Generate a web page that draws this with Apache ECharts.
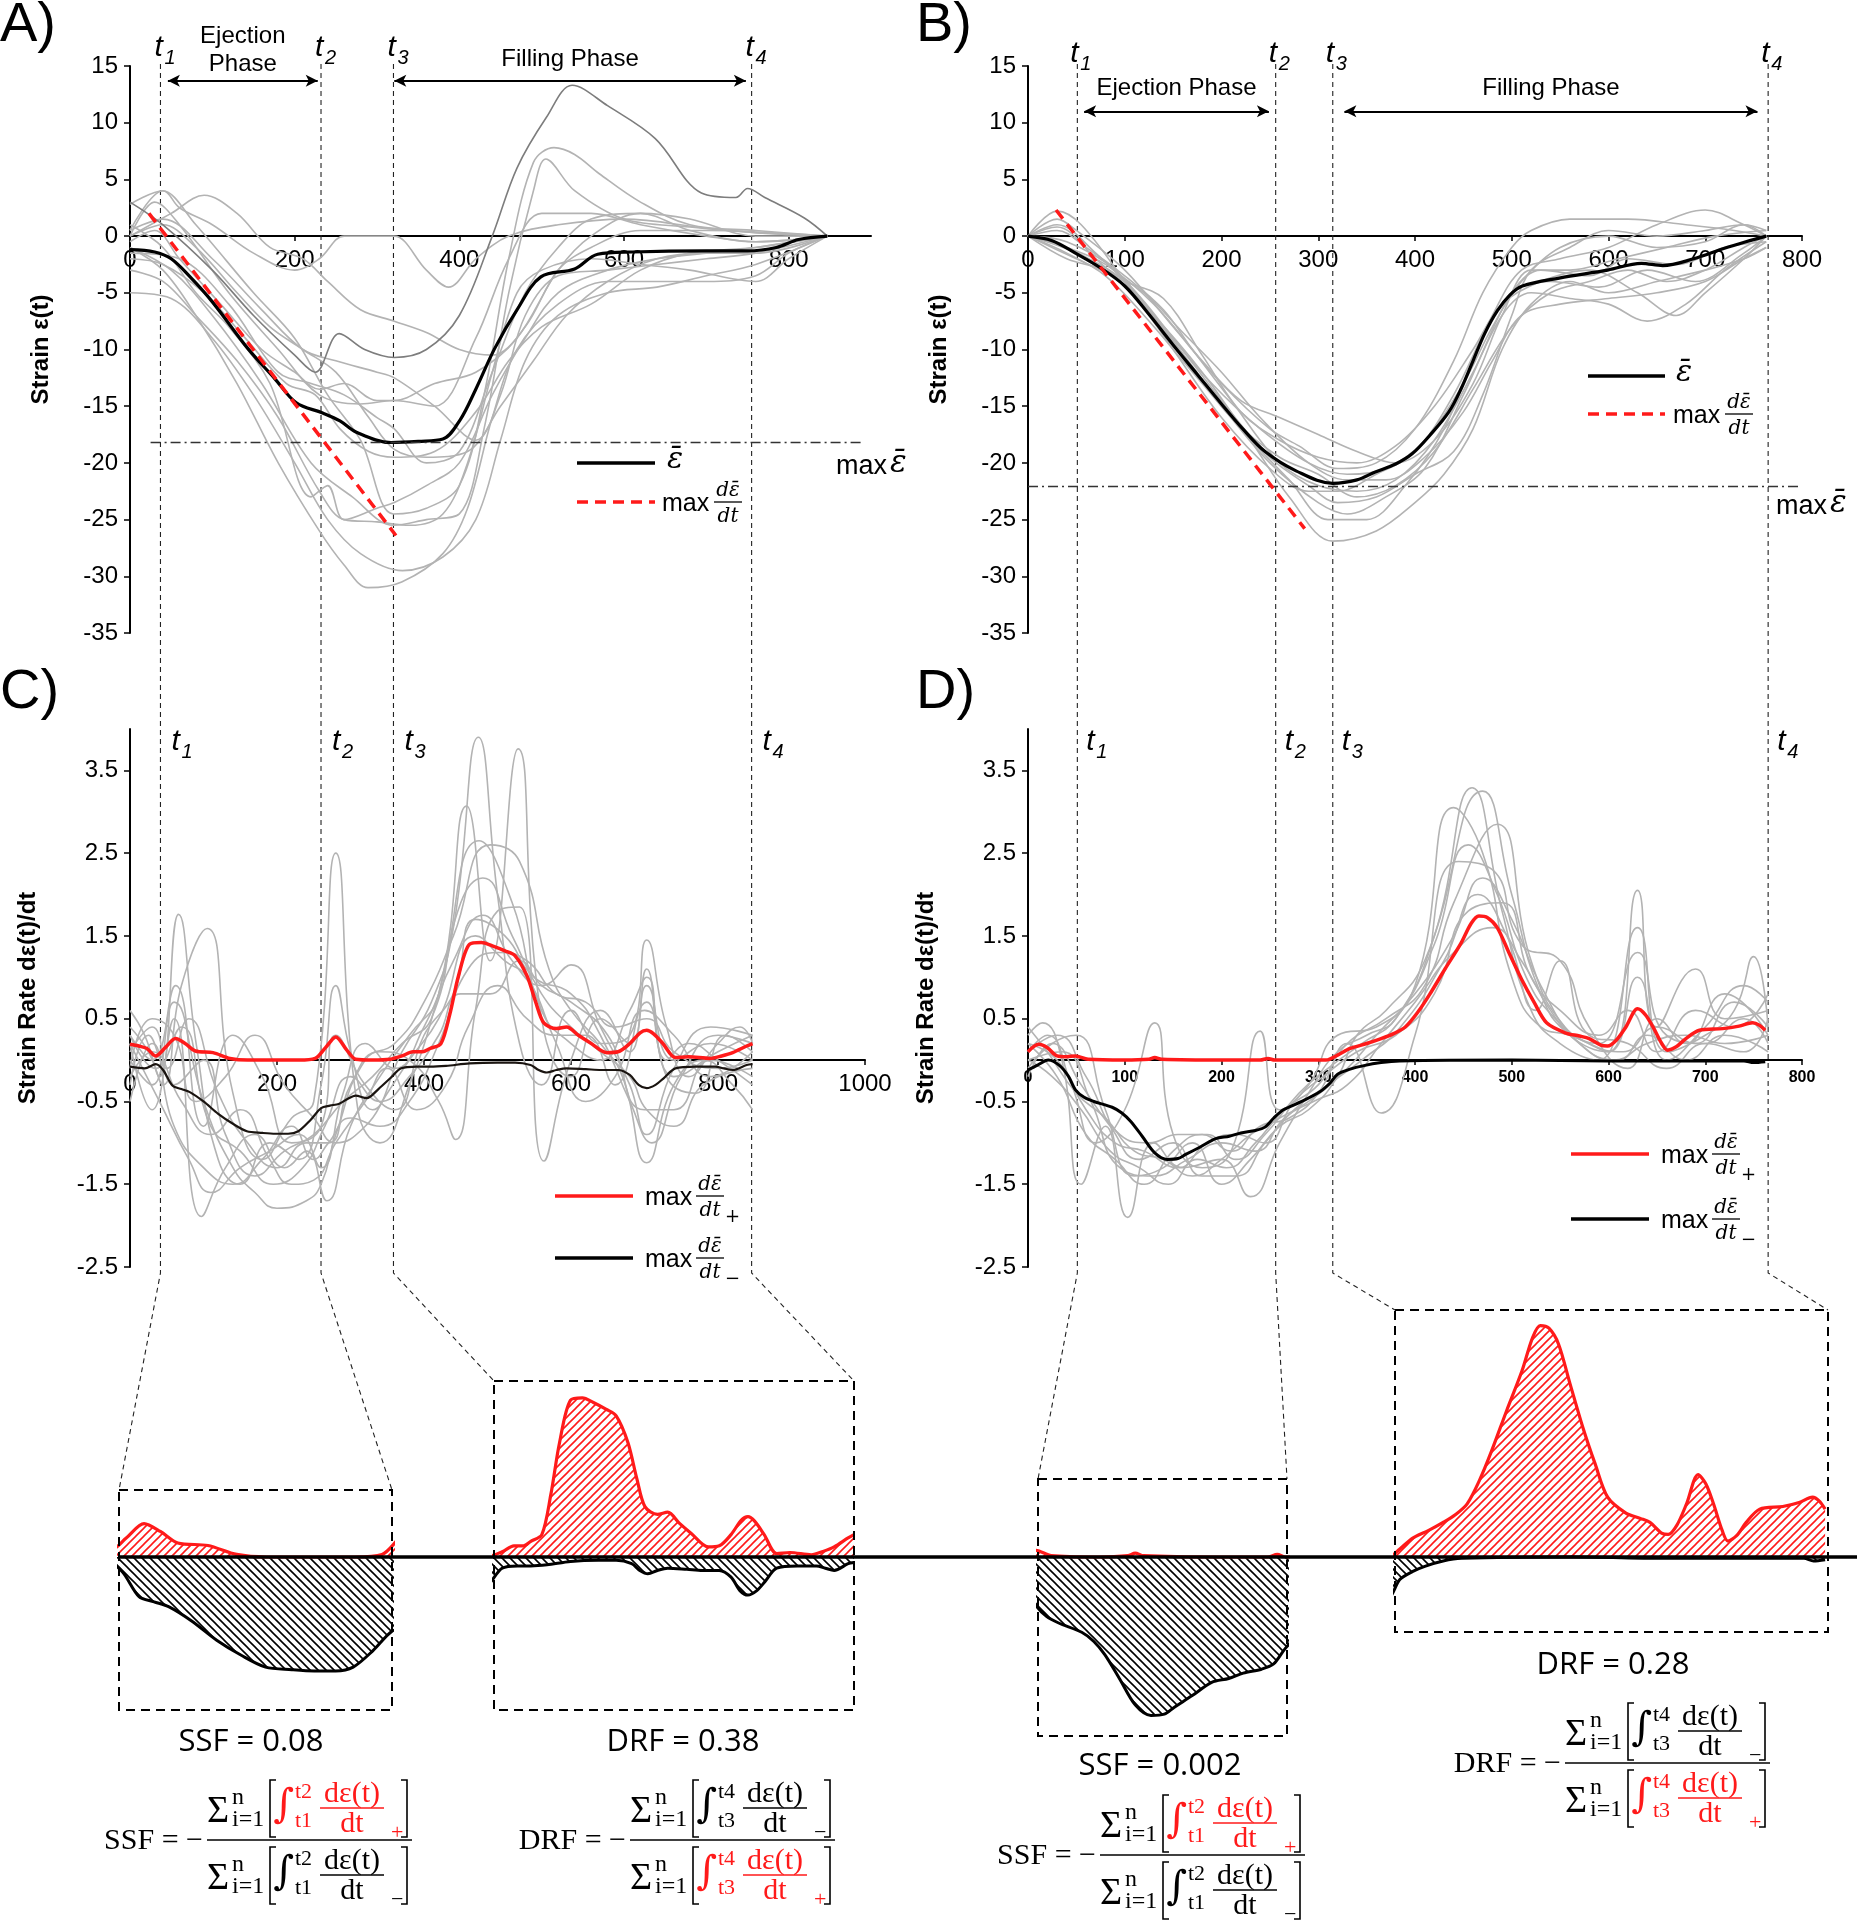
<!DOCTYPE html>
<html><head><meta charset="utf-8">
<script src="https://cdn.jsdelivr.net/npm/echarts@6/dist/echarts.min.js"></script>
<style>html,body{margin:0;padding:0;background:#fff}#c{width:1857px;height:1920px}</style>
</head><body><div id="c"></div>
<script>
// ---------------- DATA ----------------
const A_T = [37, 232, 320, 755];      // t1..t4 on panel A time axis (ms)
const C_T = [42, 260, 358, 847];      // t1..t4 on panel C time axis (ms)
const B_T = [51, 256, 315, 765];      // t1..t4 on panels B and D (ms)
const A_MAX_MEAN = -18.2;
const B_MAX_MEAN = -22.1;
const A_EJECT = [46, 228], A_FILL = [321, 748], A_ARROW_Y = 13.7;
const B_EJECT = [58, 249], B_FILL = [327, 754], B_ARROW_Y = 11.0;
const AB_Y_LABELS = [-35,-30,-25,-20,-15,-10,-5,0,5,10,15];
const A_X_LABELS = [0,200,400,600,800];
const B_X_LABELS = [0,100,200,300,400,500,600,700,800];
const C_X_LABELS = [0,200,400,600,800,1000];
const CD_Y_LABELS = [-2.5,-1.5,-0.5,0.5,1.5,2.5,3.5];
const RESULTS = ['SSF = 0.08', 'DRF = 0.38', 'SSF = 0.002', 'DRF = 0.28'];

const A_mean = [[0,-1.2],[30,-1.4],[50,-2],[73,-3.6],[100,-5.8],[143,-9.9],[175,-12.5],[202,-14.7],[234,-15.6],[255,-16.3],[275,-17.3],[317,-18.2],[350,-18.1],[380,-17.9],[401,-16.2],[420,-13.5],[443,-9.9],[470,-6.5],[499,-3.6],[540,-2.9],[568,-1.6],[610,-1.4],[700,-1.3],[750,-1.3],[785,-1.0],[812,-0.3],[847,0]];
const A_slope = [[23,2.0],[323,-26.4]];
const A_dark = [[0,3],[40,1],[100,-3],[150,-7],[200,-10.5],[225,-12],[254,-8.6],[285,-10],[321,-10.7],[360,-10],[400,-7],[440,0],[470,6],[506,10.5],[537,13.3],[580,11.5],[638,8.6],[694,3.8],[736,3.4],[750,4.2],[771,3.4],[819,1.6],[847,0]];
const A_gray = [
 [[0,0.5],[40,4],[80,1],[150,-5],[200,-9],[240,-14],[280,-18],[320,-24.5],[360,-24],[400,-22],[430,-14],[460,-2],[490,6.5],[515,7.8],[540,7.2],[570,5.5],[620,3],[680,1],[760,0.5],[847,0]],
 [[0,-1],[50,-3],[100,-7],[160,-13],[220,-20],[270,-23],[320,-25.5],[360,-25],[400,-24.5],[430,-17],[460,-5],[490,4],[505,6.8],[540,4],[600,1.5],[680,0.8],[760,0.3],[847,0]],
 [[0,0],[30,3],[60,1],[120,-5],[180,-10],[230,-14],[280,-14.8],[320,-14.5],[370,-15],[420,-9],[460,-2],[500,2],[560,2],[620,1],[700,0],[760,-0.5],[847,0]],
 [[0,2.8],[40,4],[60,2.5],[100,1],[150,-1.5],[200,-3],[230,-2],[260,0],[300,0],[321,0],[360,-3],[387,-4.5],[420,-2],[460,0],[520,1],[600,1.5],[700,0.7],[760,0.3],[847,0]],
 [[0,0],[50,2],[90,3.6],[130,2],[170,-1],[210,-2],[240,-4],[280,-6.5],[321,-7.5],[360,-8.5],[400,-10],[440,-10.5],[480,-8],[520,-3],[560,-1],[620,0.5],[700,0.5],[847,0]],
 [[0,-3],[40,-4],[80,-7],[130,-11],[180,-16],[230,-22.5],[260,-25],[300,-25.2],[340,-25.5],[380,-24.5],[410,-20],[440,-12],[470,-5],[500,-3],[560,-2],[620,-2.5],[680,-3],[760,-4],[800,-2],[847,0]],
 [[0,-1],[40,-3],[80,-7],[130,-13],[180,-20],[230,-26],[260,-29],[289,-31],[330,-30.5],[380,-28],[410,-24],[440,-16],[470,-10],[520,-6],[580,-4],[640,-4],[700,-4],[760,-3.5],[800,-1.5],[847,0]],
 [[0,-5],[50,-5.5],[100,-9],[150,-14],[200,-20],[240,-25],[280,-28],[331,-29.5],[380,-28.3],[420,-25],[450,-18],[480,-11],[520,-7],[580,-5],[640,-4.5],[700,-3.5],[760,-2.5],[847,0]],
 [[0,-2],[40,-2.5],[90,-5],[140,-9],[190,-13],[225,-14],[255,-17],[290,-19],[321,-19.5],[370,-19],[420,-15.5],[460,-11],[500,-8],[560,-6],[620,-3],[680,-1.5],[760,-1],[847,0]],
 [[0,1],[40,-1],[80,-5],[120,-8],[170,-13],[220,-23],[240,-22],[260,-25],[300,-24],[321,-23.5],[360,-22],[400,-20],[440,-14],[480,-9],[520,-5],[580,-3],[640,-2],[700,-1.5],[760,-1],[847,0]],
 [[0,-0.5],[30,0.5],[60,-2],[110,-6],[160,-10],[200,-12],[230,-13.5],[260,-13],[300,-14.5],[321,-14.5],[370,-13],[420,-12],[470,-9],[520,-3],[560,0],[620,2],[680,1.5],[760,0],[847,0]],
 [[0,0],[40,1],[80,-1],[130,-5],[170,-8],[210,-10],[250,-12],[290,-16],[321,-18.8],[360,-19.5],[410,-19],[450,-15],[490,-11],[530,-7],[580,-4],[640,-2],[700,-1.5],[760,-1.5],[847,0]],
 [[0,-1.5],[60,-2],[120,-6],[180,-12],[220,-13],[260,-14],[300,-16],[321,-17],[360,-20],[400,-19],[440,-12],[480,-5],[520,-1],[560,1.5],[620,2],[680,0.5],[760,-0.5],[847,0]],
 [[0,0.5],[40,1.5],[100,-2],[160,-6.5],[210,-10],[250,-11],[300,-12],[321,-12.5],[370,-15],[420,-18],[450,-14],[480,-7],[520,-3.5],[580,-3],[640,-2.5],[700,-2],[760,-1.5],[847,0]]
];

const B_mean = [[0,0],[25,-0.4],[49,-1.5],[75,-2.8],[100,-4.4],[125,-6.9],[150,-9.6],[175,-12.2],[200,-14.8],[222,-17],[245,-19],[277,-20.7],[315,-21.8],[340,-21.5],[359,-20.8],[380,-20.1],[397,-19.2],[415,-17.6],[435,-15.5],[448,-13.4],[460,-11],[472,-8.6],[485,-6.6],[498,-5.2],[511,-4.4],[549,-3.7],[599,-3.0],[634,-2.4],[656,-2.6],[688,-2.0],[719,-1.1],[742,-0.5],[763,0]];
const B_slope = [[29,2.3],[286,-25.8]];
const B_gray = [
 [[0,0],[30,1.5],[50,0.5],[100,-3],[150,-8],[200,-13],[250,-17],[280,-18.5],[320,-20.5],[360,-20],[400,-17],[440,-11],[470,-5],[500,-1],[520,0.5],[560,1.5],[620,1.5],[680,1],[730,0.5],[763,0]],
 [[0,0],[30,2.2],[55,1],[100,-4],[150,-10],[200,-16],[250,-20.5],[290,-22.5],[320,-22.5],[360,-21],[400,-19],[440,-14],[480,-7],[510,-3],[550,-2],[600,-1],[650,1],[700,2.3],[740,1],[763,0]],
 [[0,0],[40,-1.5],[80,-3.5],[120,-7],[160,-11],[200,-15],[250,-20],[300,-23.5],[330,-24.5],[370,-23],[410,-20.5],[450,-14],[490,-7],[520,-5],[560,-5.5],[600,-6],[640,-7.5],[680,-6],[720,-3],[763,-0.5]],
 [[0,0],[40,-1],[80,-3],[130,-7],[180,-12],[230,-18],[270,-23],[315,-26.9],[360,-26],[400,-23.5],[430,-21],[460,-17],[490,-10],[520,-6],[560,-4],[600,-5],[650,-4],[700,-3],[740,-2],[763,-1]],
 [[0,0],[50,-2],[100,-4],[140,-5.5],[180,-10.5],[220,-15.5],[260,-18],[300,-19.5],[340,-20],[380,-18.5],[420,-15],[460,-10],[490,-6],[530,-4],[580,-3],[630,-5],[670,-7],[700,-5],[740,-2],[763,0]],
 [[0,0],[40,-1],[80,-2.5],[130,-6],[180,-11],[220,-14.5],[260,-16],[300,-17.5],[340,-19],[380,-20],[420,-18],[460,-13],[490,-7],[520,-3],[560,-3],[610,-2],[660,-1],[710,0],[763,0.5]],
 [[0,0],[30,0.8],[70,-2],[120,-6],[170,-11.5],[220,-17],[270,-21.5],[310,-25],[350,-25],[390,-22],[430,-17],[470,-9],[500,-5],[540,-4],[590,-4.5],[640,-3],[690,-4],[740,-1.5],[763,0]],
 [[0,0],[40,-0.5],[90,-3],[140,-8],[190,-13],[240,-17],[290,-20],[330,-21],[370,-20.5],[410,-18],[450,-13],[480,-8],[510,-4],[550,-1],[600,0],[650,-1],[700,-0.5],[740,1],[763,0.5]],
 [[0,0],[30,0.5],[60,-1],[100,-3.5],[140,-6.5],[170,-10],[210,-14.5],[260,-20],[300,-22],[340,-22.5],[380,-21.5],[420,-18],[460,-12],[500,-5],[530,-3],[580,-3.5],[620,-2],[670,-2.5],[720,-1],[763,-0.5]],
 [[0,0],[40,-2],[80,-3],[120,-5],[160,-8.5],[200,-12],[240,-16],[290,-20],[330,-21.5],[370,-21.5],[410,-19.5],[450,-15.5],[480,-11],[510,-7],[550,-6],[600,-5.5],[650,-5],[700,-4],[740,-2],[763,-1]],
 [[0,0],[30,1],[70,-1.5],[110,-5],[160,-10.5],[210,-16],[260,-19.5],[300,-21],[340,-23],[380,-22],[420,-19],[460,-13.5],[500,-8],[540,-5],[580,-4],[620,-3],[660,-4],[700,-3],[740,-1],[763,0]],
 [[0,0],[50,-1.5],[100,-4],[150,-9],[200,-14.5],[250,-19.5],[290,-22],[320,-23.5],[360,-23],[400,-21],[440,-19],[470,-14],[500,-7],[520,-3],[560,-1],[600,0.5],[650,0],[700,0.5],[740,1],[763,0]]
];

const C_pos = [[0,0.19],[12,0.17],[23,0.14],[35,0.05],[48,0.15],[62,0.26],[75,0.2],[89,0.11],[113,0.09],[136,0.02],[160,0],[198,0],[230,0],[252,0.02],[266,0.15],[280,0.28],[295,0.12],[307,0.01],[330,0],[354,0.01],[370,0.05],[385,0.1],[398,0.1],[408,0.14],[423,0.2],[435,0.55],[447,1.02],[462,1.4],[478,1.42],[493,1.38],[510,1.32],[524,1.26],[540,1.02],[552,0.7],[563,0.45],[580,0.38],[594,0.4],[610,0.3],[626,0.21],[649,0.09],[664,0.1],[680,0.2],[694,0.33],[703,0.36],[712,0.32],[725,0.2],[742,0.03],[760,0.04],[789,0.02],[805,0.05],[820,0.09],[839,0.17],[847,0.2]];
const C_neg = [[0,-0.08],[20,-0.1],[35,-0.05],[45,-0.12],[58,-0.31],[70,-0.35],[82,-0.39],[100,-0.5],[120,-0.65],[140,-0.77],[159,-0.86],[180,-0.88],[198,-0.89],[215,-0.89],[229,-0.86],[245,-0.73],[260,-0.58],[272,-0.55],[284,-0.53],[296,-0.47],[307,-0.43],[322,-0.46],[338,-0.35],[354,-0.22],[369,-0.1],[390,-0.08],[408,-0.08],[430,-0.07],[462,-0.04],[500,-0.03],[524,-0.03],[545,-0.06],[556,-0.12],[567,-0.15],[580,-0.12],[594,-0.1],[620,-0.11],[641,-0.12],[664,-0.12],[680,-0.18],[692,-0.3],[703,-0.34],[715,-0.3],[726,-0.22],[742,-0.1],[770,-0.08],[796,-0.08],[808,-0.1],[820,-0.12],[839,-0.06],[847,-0.05]];
const C_gray = [
 [[0,0.6],[20,0.3],[40,-0.2],[66,1.76],[90,0.2],[120,-1.2],[150,-1.5],[190,-1.0],[230,-1.2],[260,-0.3],[280,0.9],[300,0.1],[330,-0.6],[370,0.1],[410,0.7],[440,1.6],[474,3.9],[500,2.0],[530,0.2],[560,-0.3],[600,0.6],[640,0.2],[680,0.3],[703,1.45],[730,0.4],[760,-0.2],[800,0.2],[830,0.4],[847,0.2]],
 [[0,0.2],[30,-0.6],[60,0.5],[97,-1.89],[130,-1.3],[170,-0.9],[210,-1.3],[240,-1.1],[268,-1.7],[300,-0.8],[340,-0.2],[380,0.3],[420,0.8],[458,3.07],[490,1.2],[528,3.76],[560,0.5],[600,-0.2],[640,0.5],[680,0.2],[703,1.1],[730,0.0],[760,0.2],[800,0.0],[847,-0.3]],
 [[0,0.4],[25,0.1],[45,-0.3],[70,0.9],[105,1.59],[140,-0.4],[180,-1.2],[220,-0.7],[250,-0.5],[280,2.5],[310,-0.6],[340,-1.0],[380,-0.3],[420,0.8],[475,2.65],[520,1.9],[560,0.6],[600,0.2],[640,0.0],[680,0.6],[703,1.0],[730,-0.2],[770,-0.4],[810,0.3],[847,0.1]],
 [[0,0.0],[30,-0.3],[60,0.7],[100,-0.5],[140,-1.3],[170,-1.6],[200,-1.79],[240,-1.7],[260,-1.5],[280,-0.9],[320,0.0],[360,0.2],[400,0.7],[440,1.5],[490,2.6],[530,2.4],[570,1.1],[600,0.6],[640,0.2],[670,-0.2],[703,-1.24],[740,-0.3],[780,0.0],[820,-0.3],[847,-0.6]],
 [[0,-0.3],[25,0.3],[50,-0.1],[80,0.5],[120,-0.4],[160,-1.0],[200,-1.3],[240,-1.0],[270,-1.0],[300,-0.3],[340,0.1],[380,0.0],[420,-0.5],[443,-0.96],[470,0.6],[500,1.8],[530,1.85],[563,-1.22],[600,0.0],[640,0.6],[680,0.1],[703,0.9],[740,0.0],[790,0.2],[847,0.0]],
 [[0,0.3],[30,0.0],[62,0.9],[100,-0.8],[140,0.3],[180,-0.2],[220,-1.0],[260,-0.8],[280,0.3],[320,-0.3],[360,-0.6],[400,0.3],[440,0.8],[470,1.7],[510,1.5],[550,1.0],[600,0.8],[640,0.3],[680,-0.5],[710,-1.0],[750,-0.2],[800,0.3],[847,0.2]],
 [[0,-0.5],[30,0.2],[60,-0.8],[100,-1.3],[140,-1.5],[180,-1.2],[220,-0.8],[250,-1.2],[270,-1.0],[300,-0.7],[340,-0.8],[380,-0.5],[420,0.2],[460,1.1],[500,1.3],[540,1.2],[580,0.8],[620,0.7],[660,0.4],[703,0.5],[740,0.1],[800,-0.1],[847,0.0]],
 [[0,0.1],[30,0.4],[60,-0.3],[100,0.0],[130,-0.9],[170,-1.4],[210,-1.1],[250,-0.9],[290,-0.5],[330,-0.2],[370,0.2],[410,0.5],[450,1.9],[480,2.2],[520,1.5],[560,0.8],[600,0.4],[640,0.1],[680,-0.2],[703,-0.6],[740,-0.8],[780,-0.3],[847,-0.1]],
 [[0,0.2],[40,-0.5],[80,-1.2],[110,-1.6],[150,-1.3],[190,-1.1],[230,-0.9],[260,-1.3],[290,-0.4],[320,0.2],[360,-0.1],[400,0.4],[440,1.2],[480,1.75],[520,1.2],[560,0.9],[600,1.15],[640,0.4],[680,-0.3],[703,-0.9],[740,-0.1],[790,0.4],[847,0.3]],
 [[0,-0.1],[30,0.5],[60,0.3],[90,-0.5],[130,-0.2],[170,0.3],[210,-0.3],[250,-0.7],[280,-1.0],[320,-0.8],[350,-0.4],[380,0.0],[420,0.5],[470,1.5],[510,1.2],[540,1.0],[580,0.2],[620,-0.5],[660,-0.2],[700,0.6],[740,0.3],[790,-0.2],[847,0.1]],
 [[0,0.3],[35,-0.1],[70,0.4],[110,-0.8],[150,-1.1],[195,-1.5],[235,-1.3],[265,-0.8],[300,-0.2],[340,-0.5],[380,-0.2],[420,0.3],[450,0.8],[490,0.8],[530,1.2],[560,0.9],[600,0.7],[650,0.3],[700,-0.6],[740,-0.6],[790,0.0],[847,-0.2]],
 [[0,-0.2],[30,0.1],[70,-0.5],[110,-0.9],[150,-0.6],[190,-1.2],[220,-1.5],[250,-1.45],[280,-1.0],[320,-0.5],[350,-0.1],[390,-0.6],[430,-0.3],[460,0.4],[500,0.9],[540,0.5],[580,0.3],[620,0.3],[660,-0.3],[703,0.7],[740,-0.2],[800,0.1],[847,0.3]]
];

const D_pos = [[0,0.1],[11,0.19],[20,0.15],[30,0.05],[40,0.04],[49,0.05],[62,0.01],[100,0],[125,0.01],[131,0.03],[138,0.01],[200,0],[240,0],[248,0.02],[255,0],[308,0],[320,0.06],[333,0.14],[350,0.2],[365,0.26],[378,0.32],[390,0.4],[403,0.58],[415,0.79],[431,1.1],[447,1.4],[458,1.65],[466,1.74],[475,1.72],[485,1.6],[497,1.3],[510,0.98],[523,0.7],[536,0.45],[555,0.33],[570,0.29],[580,0.26],[592,0.18],[599,0.17],[608,0.24],[618,0.4],[630,0.62],[638,0.55],[646,0.4],[655,0.2],[661,0.12],[670,0.16],[680,0.26],[694,0.36],[718,0.38],[735,0.41],[749,0.45],[756,0.42],[762,0.36]];
const D_neg = [[0,-0.12],[10,-0.06],[21,0],[33,-0.07],[42,-0.2],[49,-0.36],[58,-0.45],[68,-0.5],[87,-0.57],[97,-0.64],[106,-0.74],[118,-0.92],[131,-1.12],[144,-1.2],[155,-1.19],[163,-1.14],[178,-1.05],[194,-0.95],[208,-0.92],[220,-0.88],[235,-0.85],[245,-0.81],[254,-0.7],[264,-0.6],[283,-0.5],[302,-0.38],[312,-0.28],[320,-0.17],[333,-0.11],[346,-0.07],[365,-0.03],[384,-0.01],[500,0],[600,-0.01],[700,-0.01],[740,-0.01],[750,-0.03],[762,-0.02]];
const D_gray = [
 [[0,0.3],[15,0.45],[35,0.0],[55,-1.5],[80,-0.8],[103,-1.9],[130,-1.0],[160,-1.3],[200,-1.2],[230,-1.65],[260,-1.0],[290,-0.4],[320,0.1],[350,0.3],[380,0.5],[420,1.5],[459,3.29],[490,1.8],[520,0.6],[550,0.2],[590,0.0],[630,1.6],[660,0.1],[700,0.3],[730,0.6],[750,1.25],[765,0.4]],
 [[0,0.1],[20,0.3],[45,-0.3],[70,-1.0],[100,-0.6],[131,0.45],[150,-0.9],[180,-1.3],[210,-1.1],[240,0.35],[260,-0.6],[290,-0.3],[320,0.3],[360,0.4],[400,0.9],[440,3.05],[470,2.5],[500,1.0],[530,0.4],[560,0.3],[600,0.1],[630,2.05],[650,0.4],[690,1.1],[720,0.5],[765,0.6]],
 [[0,-0.1],[25,0.2],[50,0.3],[80,-0.6],[110,-1.4],[140,-1.3],[170,-1.0],[200,-1.5],[230,-1.2],[260,-0.8],[290,-0.6],[320,-0.2],[340,0.3],[370,0.6],[410,1.2],[470,3.25],[500,2.0],[530,0.8],[560,0.3],[600,0.1],[630,1.0],[660,0.0],[700,0.4],[740,0.9],[765,0.7]],
 [[0,0.2],[30,-0.2],[60,-0.9],[90,-1.2],[120,-1.5],[150,-1.1],[180,-0.9],[210,-1.1],[240,-0.8],[270,-0.7],[300,-0.4],[330,0.2],[365,-0.64],[400,0.3],[445,2.4],[480,2.3],[510,1.4],[550,1.2],[580,0.4],[620,-0.1],[650,0.5],[680,0.2],[720,0.8],[765,0.3]],
 [[0,0.0],[25,-0.2],[55,-0.6],[85,-1.1],[115,-1.3],[145,-1.5],[175,-1.2],[205,-1.3],[235,-1.0],[265,-0.6],[300,-0.3],[330,0.2],[370,0.5],[410,0.9],[440,1.9],[485,2.85],[520,1.2],[555,0.4],[590,0.2],[630,1.3],[660,0.3],[700,0.2],[740,0.5],[765,0.2]],
 [[0,0.4],[20,0.1],[50,-0.4],[80,-0.7],[110,-1.1],[140,-1.2],[170,-1.4],[200,-1.2],[230,-0.9],[260,-0.7],[290,-0.5],[330,-0.1],[360,0.3],[400,0.8],[440,1.5],[470,2.2],[500,1.7],[530,0.9],[570,0.2],[610,0.0],[640,0.3],[680,0.0],[720,0.3],[765,0.1]],
 [[0,0.2],[30,0.0],[60,-0.6],[90,-1.0],[120,-1.1],[155,-1.3],[185,-1.0],[215,-0.9],[245,-1.0],[275,-0.5],[305,-0.2],[340,0.1],[380,0.3],[420,0.8],[455,1.8],[490,1.9],[520,1.0],[550,0.6],[590,0.3],[620,0.6],[650,0.1],[690,0.6],[730,0.4],[765,0.8]],
 [[0,-0.2],[25,0.2],[55,-0.3],[85,-0.8],[115,-1.2],[150,-1.0],[180,-1.4],[215,-1.4],[245,-1.0],[275,-0.6],[310,-0.3],[345,0.0],[385,0.4],[430,1.2],[465,2.0],[495,1.5],[525,0.6],[550,1.2],[580,0.3],[620,0.2],[660,-0.1],[700,0.2],[740,0.1],[765,0.5]],
 [[0,0.1],[30,0.3],[60,-0.2],[95,-0.9],[125,-1.0],[155,-0.9],[185,-0.9],[215,-1.2],[245,-0.9],[280,-0.4],[310,-0.1],[345,0.2],[380,0.5],[420,1.4],[455,2.6],[485,2.0],[515,1.0],[545,0.5],[580,0.2],[615,0.1],[650,0.4],[690,0.2],[730,0.7],[765,0.4]],
 [[0,0.0],[35,0.1],[65,-0.5],[95,-1.3],[130,-1.4],[165,-1.2],[200,-1.0],[235,-1.1],[265,-0.7],[295,-0.5],[330,-0.3],[365,0.2],[400,0.7],[440,1.3],[480,1.6],[510,1.2],[540,0.6],[570,0.2],[605,0.0],[640,0.2],[680,0.3],[720,0.2],[765,0.3]]
];

// ---------------- LAYOUT ----------------
const SANS = '"Liberation Sans", Arial, sans-serif';
const SERIF = '"Liberation Serif", "DejaVu Serif", serif';
const MATH = '"DejaVu Serif", serif';
const RED = '#ff1a1a';
const GRAY = '#b3b3b3';
const GA = {left:130, top:66, width:741, height:567};
const GB = {left:1028, top:66, width:774, height:567};
const GC = {left:130, top:729, width:735, height:538};
const GD = {left:1028, top:729, width:774, height:538};
const ZERO_Y = 1557;
const IA1 = {left:119, top:1490, width:273, height:220, k:128};
const IA2 = {left:494, top:1381, width:360, height:329, k:112};
const IB1 = {left:1038, top:1479, width:249, height:257, k:132};
const IB2 = {left:1395, top:1310, width:433, height:322, k:133};
const INSETS = [IA1, IA2, IB1, IB2];

function grid(g){ return {left:g.left, top:g.top, width:g.width, height:g.height, containLabel:false, outerBoundsMode:'none'}; }

// x axis drawn at the y=0 level of its grid (offset from the bottom edge)
function xAx(gi, g, min, max, yMin, yMax, labels, fs, bold){
  return {type:'value', gridIndex:gi, min, max, position:'bottom',
    offset: -g.height * (0 - yMin) / (yMax - yMin),
    axisLine:{show:true, onZero:false, lineStyle:{color:'#000', width:2}},
    axisTick:{show:true, length:5, customValues:labels, lineStyle:{color:'#000', width:1.5}},
    axisLabel:{customValues:labels, fontSize:fs, fontWeight:bold?'bold':'normal', color:'#000', fontFamily:SANS, margin:bold?10:12,
      formatter: v => String(v)},
    splitLine:{show:false}};
}
function yAx(gi, min, max, labels, name, gap){
  return {type:'value', gridIndex:gi, min, max,
    axisLine:{show:true, onZero:false, lineStyle:{color:'#000', width:2}},
    axisTick:{show:true, length:6, customValues:labels, lineStyle:{color:'#000', width:1.5}},
    axisLabel:{customValues:labels, fontSize:24, color:'#000', fontFamily:SANS, margin:12, formatter: v => String(v)},
    splitLine:{show:false},
    name, nameLocation:'middle', nameGap:gap,
    nameTextStyle:{fontSize:24, fontWeight:'bold', color:'#000', fontFamily:SANS}};
}
function ln(gi, data, color, width, extra){
  return Object.assign({type:'line', xAxisIndex:gi, yAxisIndex:gi, data, showSymbol:false, symbol:'none', smooth:0.35,
    lineStyle:{color, width}, silent:true, z:2}, extra||{});
}
function hatch(color, dir){
  const s = 8, c = document.createElement('canvas'); c.width = s; c.height = s;
  const g = c.getContext('2d'); g.strokeStyle = color; g.lineWidth = 1.6; g.beginPath();
  if (dir > 0){ g.moveTo(0,s); g.lineTo(s,0); g.moveTo(-2,2); g.lineTo(2,-2); g.moveTo(s-2,s+2); g.lineTo(s+2,s-2); }
  else { g.moveTo(0,0); g.lineTo(s,s); g.moveTo(s-2,-2); g.lineTo(s+2,2); g.moveTo(-2,s-2); g.lineTo(2,s+2); }
  g.stroke(); return c;
}

const xAxes = [
  xAx(0, GA, 0, 900, -35, 15, A_X_LABELS, 24), xAx(1, GB, 0, 800, -35, 15, B_X_LABELS, 24),
  xAx(2, GC, 0, 1000, -2.5, 4, C_X_LABELS, 24), xAx(3, GD, 0, 800, -2.5, 4, B_X_LABELS, 16, true)
];
const yAxes = [
  yAx(0, -35, 15, AB_Y_LABELS, 'Strain ε(t)', 77), yAx(1, -35, 15, AB_Y_LABELS, 'Strain ε(t)', 77),
  yAx(2, -2.5, 4, CD_Y_LABELS, 'Strain Rate dε(t)/dt', 90), yAx(3, -2.5, 4, CD_Y_LABELS, 'Strain Rate dε(t)/dt', 90)
];
const insetRanges = [[C_T[0], C_T[1]], [C_T[2], C_T[3]], [B_T[0], B_T[1]], [B_T[2], B_T[3]]];
const insetPos = [C_pos, C_pos, D_pos, D_pos];
const insetNeg = [C_neg, C_neg, D_neg, D_neg];
INSETS.forEach((g, i) => {
  xAxes.push({type:'value', gridIndex:4+i, min:insetRanges[i][0], max:insetRanges[i][1], show:false});
  yAxes.push({type:'value', gridIndex:4+i, max:(ZERO_Y-g.top)/g.k, min:-(g.top+g.height-ZERO_Y)/g.k, show:false});
});

function arrowPair(x0, x1, y){
  return [{coord:[x0, y], symbol:'arrow', symbolSize:[9,12], lineStyle:{type:'solid', color:'#000', width:1.8}},
          {coord:[x1, y], symbol:'arrow', symbolSize:[9,12]}];
}
const series = [];
A_gray.forEach(d => series.push(ln(0, d, GRAY, 1.6)));
series.push(ln(0, A_dark, '#7d7d7d', 1.6));
series.push(ln(0, A_mean, '#000', 3.2, {z:4, markLine:{silent:true, symbol:'none', label:{show:false},
  lineStyle:{color:'#333', width:1.3, type:[10,4,2,4]},
  data:[ [{coord:[25, A_MAX_MEAN]}, {coord:[890, A_MAX_MEAN]}],
         arrowPair(A_EJECT[0], A_EJECT[1], A_ARROW_Y), arrowPair(A_FILL[0], A_FILL[1], A_ARROW_Y) ]}}));
series.push(ln(0, A_slope, RED, 3.5, {smooth:false, z:5, lineStyle:{color:RED, width:3.5, type:[11,7]}}));

B_gray.forEach(d => series.push(ln(1, d, GRAY, 1.6)));
series.push(ln(1, B_mean, '#000', 3.2, {z:4, markLine:{silent:true, symbol:'none', label:{show:false},
  lineStyle:{color:'#333', width:1.3, type:[10,4,2,4]},
  data:[ [{coord:[0, B_MAX_MEAN]}, {coord:[800, B_MAX_MEAN]}],
         arrowPair(B_EJECT[0], B_EJECT[1], B_ARROW_Y), arrowPair(B_FILL[0], B_FILL[1], B_ARROW_Y) ]}}));
series.push(ln(1, B_slope, RED, 3.5, {smooth:false, z:5, lineStyle:{color:RED, width:3.5, type:[11,7]}}));

C_gray.forEach(d => series.push(ln(2, d, GRAY, 1.6, {smooth:0.5})));
series.push(ln(2, C_neg, '#1a1410', 2.2, {z:4, smooth:0.3}));
series.push(ln(2, C_pos, RED, 3.5, {z:5, smooth:0.3}));
D_gray.forEach(d => series.push(ln(3, d, GRAY, 1.6, {smooth:0.5})));
series.push(ln(3, D_neg, '#000', 3, {z:4, smooth:0.3}));
series.push(ln(3, D_pos, RED, 3.5, {z:5, smooth:0.3}));

const redHatch = {image: hatch(RED, 1), repeat:'repeat'};
const blkHatch = {image: hatch('#000', -1), repeat:'repeat'};
INSETS.forEach((g, i) => {
  series.push(ln(4+i, insetPos[i], RED, 3.2, {smooth:0.3, areaStyle:{color:redHatch, opacity:1, origin:'auto'}}));
  series.push(ln(4+i, insetNeg[i], '#000', 3, {smooth:0.3, areaStyle:{color:blkHatch, opacity:1, origin:'auto'}}));
});

const chart = echarts.init(document.getElementById('c'), null, {renderer:'canvas'});
chart.setOption({
  animation:false, backgroundColor:'#fff',
  grid:[GA, GB, GC, GD].concat(INSETS).map(grid),
  xAxis:xAxes, yAxis:yAxes, series
});

// ---------------- ANNOTATIONS ----------------
const px = (i, v) => chart.convertToPixel({xAxisIndex:i}, v);
const py = (i, v) => chart.convertToPixel({yAxisIndex:i}, v);
const G = [];
function txt(x, y, text, font, opt){
  opt = opt || {};
  const al = opt.align || 'left', va = opt.va || 'middle';
  G.push({type:'text', silent:true, z:100, style:{x, y, text, font, fill:opt.color||'#000',
    textAlign:al, textVerticalAlign:va, align:al, verticalAlign:va}});
}
function seg(x1, y1, x2, y2, color, w, dash){
  G.push({type:'line', silent:true, z:100, shape:{x1, y1, x2, y2}, style:{stroke:color, lineWidth:w, lineDash:dash||null}});
}
function poly(pts, color, w, dash, z){
  G.push({type:'polyline', silent:true, z:z||1, shape:{points:pts}, style:{stroke:color, lineWidth:w, lineDash:dash||null, fill:null}});
}
function tLabel(x, y, n){
  txt(x, y, 't', 'italic 30px ' + SANS);
  txt(x + 10, y + 10, String(n), 'italic 20px ' + SANS);
}

// panel letters
txt(0, 26, 'A)', '56px ' + SANS);
txt(916, 26, 'B)', '56px ' + SANS);
txt(0, 693, 'C)', '56px ' + SANS);
txt(916, 693, 'D)', '56px ' + SANS);

// phase labels
const PF = '24px ' + SANS;
txt((px(0,A_EJECT[0])+px(0,A_EJECT[1]))/2, 36, 'Ejection', PF, {align:'center'});
txt((px(0,A_EJECT[0])+px(0,A_EJECT[1]))/2, 64, 'Phase', PF, {align:'center'});
txt((px(0,A_FILL[0])+px(0,A_FILL[1]))/2, 59, 'Filling Phase', PF, {align:'center'});
txt((px(1,B_EJECT[0])+px(1,B_EJECT[1]))/2, 88, 'Ejection Phase', PF, {align:'center'});
txt((px(1,B_FILL[0])+px(1,B_FILL[1]))/2, 88, 'Filling Phase', PF, {align:'center'});

// t lines, t labels and connectors to the inset boxes
const topY = py(0, 15) - 2;
const botY = py(2, -2.5) + 6;
const corners = [
  [IA1.left, IA1.top], [IA1.left+IA1.width, IA1.top], [IA2.left, IA2.top], [IA2.left+IA2.width, IA2.top],
  [IB1.left, IB1.top], [IB1.left+IB1.width, IB1.top], [IB2.left, IB2.top], [IB2.left+IB2.width, IB2.top]
];
A_T.forEach((t, i) => {
  const x = px(0, t);
  poly([[x, topY], [x, botY], corners[i]], '#222', 1.1, [5,4]);
  tLabel(x - 6, 48, i + 1);
  tLabel(x + 11, 742, i + 1);
});
B_T.forEach((t, i) => {
  const x = px(1, t);
  poly([[x, topY], [x, botY], corners[4+i]], '#222', 1.1, [5,4]);
  tLabel(x - 7, 54, i + 1);
  tLabel(x + 9, 742, i + 1);
});

// max eps-bar labels
txt(836, 467, 'max', '27px ' + SANS);
txt(890, 464, 'ε\u0304', 'italic 31px ' + MATH);
txt(1776, 507, 'max', '27px ' + SANS);
txt(1830, 504, 'ε\u0304', 'italic 31px ' + MATH);

// legends
function fracLeg(cx, y, sub, color){
  txt(cx, y - 11, 'dε\u0304', 'italic 20px ' + MATH, {align:'center', color:color||'#000'});
  seg(cx - 14, y, cx + 14, y, color||'#000', 1.3);
  txt(cx, y + 15, 'dt', 'italic 20px ' + MATH, {align:'center', color:color||'#000'});
  if (sub) txt(cx + 15, y + 21, sub, '18px ' + MATH);
}
seg(577, 463, 655, 463, '#000', 3.5);
txt(667, 460, 'ε\u0304', 'italic 30px ' + MATH);
seg(577, 502, 655, 502, RED, 3.5, [11,7]);
txt(662, 504, 'max', '25px ' + SANS);
fracLeg(728, 502);

seg(1588, 376, 1665, 376, '#000', 3.5);
txt(1676, 373, 'ε\u0304', 'italic 30px ' + MATH);
seg(1588, 414, 1665, 414, RED, 3.5, [11,7]);
txt(1673, 416, 'max', '25px ' + SANS);
fracLeg(1739, 414);

seg(555, 1196, 633, 1196, RED, 3.5);
txt(645, 1198, 'max', '25px ' + SANS);
fracLeg(710, 1196, '+');
seg(555, 1258, 633, 1258, '#000', 3.5);
txt(645, 1260, 'max', '25px ' + SANS);
fracLeg(710, 1258, '−');

seg(1571, 1154, 1649, 1154, RED, 3.5);
txt(1661, 1156, 'max', '25px ' + SANS);
fracLeg(1726, 1154, '+');
seg(1571, 1219, 1649, 1219, '#000', 3.5);
txt(1661, 1221, 'max', '25px ' + SANS);
fracLeg(1726, 1219, '−');

// inset boxes and common zero line
INSETS.forEach(g => {
  G.push({type:'rect', silent:true, z:50, shape:{x:g.left, y:g.top, width:g.width, height:g.height},
    style:{stroke:'#000', lineWidth:2, lineDash:[9,6], fill:null}});
});
seg(IA1.left, py(4, 0), 1857, py(4, 0), '#000', 3.5);

// result labels
const RESULT_POS = [[251,1742],[683,1742],[1160,1766],[1613,1665]];
RESULTS.forEach((s, i) => txt(RESULT_POS[i][0], RESULT_POS[i][1], s, '31px "Open Sans", sans-serif', {align:'center'}));

// formulas
function formula(bx, by, name, lims, redRow, signs){
  txt(bx - 4, by + 1, name + ' = −', '30px ' + SERIF, {align:'right'});
  seg(bx, by, bx + 205, by, '#000', 1.6);
  [0, 1].forEach(r => {
    const dy = r === 0 ? 0 : 67;
    const c = (r === redRow) ? RED : '#000';
    txt(bx, by - 28 + dy, 'Σ', '38px ' + SERIF);
    txt(bx + 25, by - 42 + dy, 'n', '24px ' + SERIF);
    txt(bx + 25, by - 20 + dy, 'i=1', '24px ' + SERIF);
    poly([[bx+69, by-60+dy], [bx+63, by-60+dy], [bx+63, by-3+dy], [bx+69, by-3+dy]], '#000', 1.6, null, 100);
    txt(bx + 77, by - 33 + dy, '∫', '40px ' + MATH, {align:'center', color:c});
    txt(bx + 88, by - 48 + dy, lims[1], '22px ' + SERIF, {color:c});
    txt(bx + 88, by - 19 + dy, lims[0], '22px ' + SERIF, {color:c});
    txt(bx + 145, by - 46 + dy, 'dε(t)', '30px ' + SERIF, {align:'center', color:c});
    seg(bx + 113, by - 32 + dy, bx + 177, by - 32 + dy, c, 1.6);
    txt(bx + 145, by - 16 + dy, 'dt', '30px ' + SERIF, {align:'center', color:c});
    txt(bx + 184, by - 7 + dy, signs[r], '22px ' + SERIF, {color:c});
    poly([[bx+194, by-60+dy], [bx+200, by-60+dy], [bx+200, by-3+dy], [bx+194, by-3+dy]], '#000', 1.6, null, 100);
  });
}
formula(207, 1840, 'SSF', ['t1','t2'], 0, ['+','−']);
formula(630, 1840, 'DRF', ['t3','t4'], 1, ['−','+']);
formula(1100, 1855, 'SSF', ['t1','t2'], 0, ['+','−']);
formula(1565, 1763, 'DRF', ['t3','t4'], 1, ['−','+']);

chart.setOption({graphic:{elements:G}});
</script></body></html>
